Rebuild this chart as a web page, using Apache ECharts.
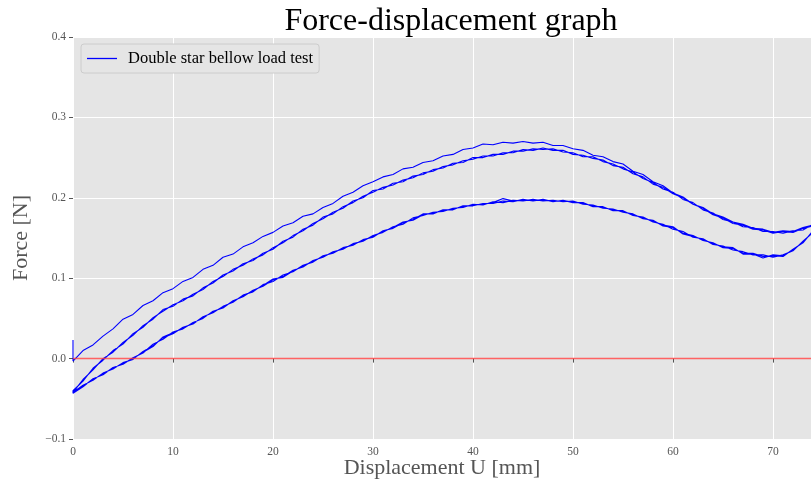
<!DOCTYPE html>
<html>
<head>
<meta charset="utf-8">
<script src="https://cdn.jsdelivr.net/npm/echarts@6/dist/echarts.min.js"></script>
<style>html,body{margin:0;padding:0;background:#fff}#c{width:811px;height:486px}</style>
</head>
<body>
<div id="c"></div>
<script>
// Displacement grid (mm), one value per index of the curve arrays below
const displacement = [0,1,2,3,4,5,6,7,8,9,10,11,12,13,14,15,16,17,18,19,20,21,22,23,24,25,26,27,28,29,30,31,32,33,34,35,36,37,38,39,40,41,42,43,44,45,46,47,48,49,50,51,52,53,54,55,56,57,58,59,60,61,62,63,64,65,66,67,68,69,70,71,72,73,74,75];
// Force [N] for each loading / unloading branch (indexed by displacement)
const load1 = [-0.003,0.010,0.017,0.028,0.037,0.049,0.055,0.066,0.072,0.082,0.087,0.096,0.101,0.111,0.116,0.126,0.130,0.139,0.144,0.152,0.157,0.165,0.169,0.177,0.180,0.188,0.193,0.202,0.207,0.215,0.220,0.226,0.229,0.236,0.238,0.244,0.246,0.252,0.254,0.260,0.262,0.267,0.266,0.269,0.268,0.270,0.268,0.269,0.265,0.265,0.261,0.259,0.253,0.251,0.245,0.242,0.233,0.229,0.220,0.215,0.206,0.201,0.192,0.188,0.180,0.176,0.170,0.167,0.162,0.161,0.157,0.159,0.158,0.163,0.166,0.173];
const unload1 = [-0.042,-0.033,-0.027,-0.018,-0.013,-0.005,-0.001,0.009,0.016,0.026,0.031,0.039,0.043,0.052,0.057,0.065,0.070,0.079,0.083,0.092,0.096,0.104,0.108,0.116,0.120,0.128,0.131,0.138,0.141,0.148,0.151,0.159,0.162,0.169,0.173,0.180,0.180,0.185,0.185,0.190,0.190,0.193,0.193,0.196,0.195,0.198,0.196,0.198,0.195,0.197,0.194,0.194,0.189,0.189,0.184,0.184,0.178,0.176,0.170,0.167,0.161,0.158,0.151,0.149,0.142,0.140,0.135,0.133,0.129,0.129,0.126,0.129,0.134,0.146,0.157,0.170];
const load2 = [-0.040,-0.026,-0.014,0.000,0.008,0.020,0.029,0.041,0.049,0.061,0.065,0.074,0.078,0.088,0.094,0.104,0.109,0.118,0.122,0.131,0.136,0.146,0.151,0.161,0.166,0.176,0.180,0.189,0.194,0.202,0.207,0.213,0.216,0.222,0.225,0.231,0.233,0.239,0.241,0.246,0.248,0.252,0.252,0.256,0.256,0.260,0.259,0.262,0.259,0.259,0.254,0.253,0.249,0.247,0.240,0.238,0.230,0.226,0.217,0.213,0.205,0.200,0.192,0.187,0.179,0.175,0.168,0.166,0.161,0.160,0.156,0.158,0.157,0.162,0.165,0.172];
const unload2 = [-0.043,-0.035,-0.025,-0.020,-0.011,-0.007,0.001,0.007,0.018,0.024,0.033,0.037,0.045,0.050,0.059,0.063,0.072,0.077,0.085,0.090,0.098,0.102,0.110,0.114,0.122,0.126,0.133,0.136,0.143,0.146,0.153,0.157,0.164,0.167,0.175,0.178,0.182,0.183,0.187,0.188,0.192,0.191,0.195,0.194,0.197,0.196,0.198,0.196,0.197,0.195,0.196,0.192,0.191,0.187,0.186,0.182,0.180,0.174,0.172,0.165,0.163,0.156,0.153,0.147,0.144,0.138,0.137,0.131,0.131,0.127,0.128,0.127,0.136,0.144,0.159,0.171];
const load3 = [-0.040,-0.028,-0.012,-0.002,0.010,0.018,0.031,0.039,0.051,0.059,0.067,0.072,0.080,0.086,0.096,0.102,0.111,0.116,0.124,0.129,0.138,0.144,0.153,0.159,0.168,0.174,0.182,0.187,0.196,0.200,0.209,0.211,0.218,0.220,0.227,0.229,0.235,0.237,0.243,0.244,0.250,0.250,0.254,0.254,0.258,0.258,0.261,0.260,0.261,0.257,0.256,0.251,0.251,0.245,0.242,0.236,0.232,0.224,0.219,0.211,0.207,0.198,0.194,0.185,0.181,0.173,0.170,0.164,0.163,0.158,0.158,0.156,0.159,0.160,0.167,0.171];
const unload3 = [-0.041,-0.034,-0.026,-0.019,-0.012,-0.006,0.000,0.008,0.015,0.027,0.032,0.038,0.044,0.051,0.058,0.064,0.071,0.078,0.084,0.091,0.099,0.101,0.109,0.115,0.121,0.127,0.132,0.137,0.142,0.147,0.152,0.158,0.163,0.170,0.172,0.179,0.181,0.184,0.186,0.189,0.191,0.192,0.194,0.199,0.196,0.197,0.197,0.197,0.196,0.196,0.195,0.193,0.190,0.188,0.185,0.183,0.179,0.175,0.171,0.166,0.164,0.155,0.152,0.148,0.143,0.139,0.138,0.130,0.130,0.125,0.129,0.128,0.135,0.145,0.158,0.170];
const startSpike = [0.023];
const yTicks = [-0.1, 0.0, 0.1, 0.2, 0.3, 0.4];
const xTicks = [0, 10, 20, 30, 40, 50, 60, 70];
const seriesName = 'Double star bellow load test';

// Build the continuous test path: load forward, unload backward
const path = [];
path.push([displacement[0], startSpike[0]]);
function fwd(arr){ for (let i = 0; i < arr.length; i++) path.push([displacement[i], arr[i]]); }
function back(arr){ for (let i = arr.length - 1; i >= 0; i--) path.push([displacement[i], arr[i]]); }
fwd(load1); back(unload1); fwd(load2); back(unload2); fwd(load3); back(unload3);

const serif = '"Liberation Serif","DejaVu Serif",serif';
const chart = echarts.init(document.getElementById('c'), null, {renderer:'canvas'});
chart.setOption({
  backgroundColor: '#ffffff',
  animation: false,
  title: {
    text: 'Force-displacement graph',
    left: 446, top: 1, textAlign: 'center',
    textStyle: {fontFamily: serif, fontSize: 32, fontWeight: 'normal', color: '#000'}
  },
  legend: {
    show: true,
    left: 81, top: 44,
    orient: 'horizontal',
    padding: [6, 6, 6, 6],
    backgroundColor: '#E5E5E5',
    borderColor: '#CCCCCC', borderWidth: 1, borderRadius: 3,
    icon: 'rect', itemWidth: 30, itemHeight: 1.3,
    textStyle: {fontFamily: serif, fontSize: 16.5, color: '#000', padding: [0, 0, 0, 6]},
    data: [seriesName]
  },
  grid: {left: 73, top: 37, right: 0, bottom: 47, show: true, backgroundColor: '#E5E5E5', borderWidth: 0, containLabel: false, outerBoundsMode: 'none'},
  xAxis: {
    type: 'value', min: 0, max: 73.8, interval: 10,
    name: 'Displacement U [mm]', nameLocation: 'middle', nameGap: 18, nameMoveOverlap: false,
    nameTextStyle: {fontFamily: serif, fontSize: 22, color: '#555'},
    axisLine: {show: false},
    axisTick: {show: true, length: 4, lineStyle: {color: '#555'}},
    axisLabel: {fontFamily: serif, fontSize: 11.5, color: '#555', margin: 7, showMaxLabel: false,
      formatter: v => xTicks.indexOf(v) >= 0 ? String(v) : ''},
    splitLine: {show: true, lineStyle: {color: '#ffffff', width: 1}}
  },
  yAxis: {
    type: 'value', min: -0.1, max: 0.4, interval: 0.1,
    name: 'Force [N]', nameLocation: 'middle', nameGap: 41, nameMoveOverlap: false,
    nameTextStyle: {fontFamily: serif, fontSize: 22, color: '#555'},
    axisLine: {show: false},
    axisTick: {show: true, length: 4, lineStyle: {color: '#555'}},
    axisLabel: {fontFamily: serif, fontSize: 11.5, color: '#555', margin: 7,
      formatter: v => { const t = yTicks.find(t => Math.abs(t - v) < 1e-9); if (t === undefined) return ''; return (t < 0 ? '\u2212' : '') + Math.abs(t).toFixed(1); }},
    splitLine: {show: true, lineStyle: {color: '#ffffff', width: 1}}
  },
  series: [{
    name: seriesName,
    type: 'line',
    data: path,
    showSymbol: false, symbol: 'none',
    clip: true,
    lineStyle: {color: '#0000ff', width: 1.1},
    itemStyle: {color: '#0000ff'},
    markLine: {
      silent: true, symbol: ['none', 'none'],
      label: {show: false},
      lineStyle: {color: 'rgba(255,60,60,0.8)', width: 1.3, type: 'solid'},
      data: [{yAxis: 0}]
    }
  }]
});
</script>
</body>
</html>
